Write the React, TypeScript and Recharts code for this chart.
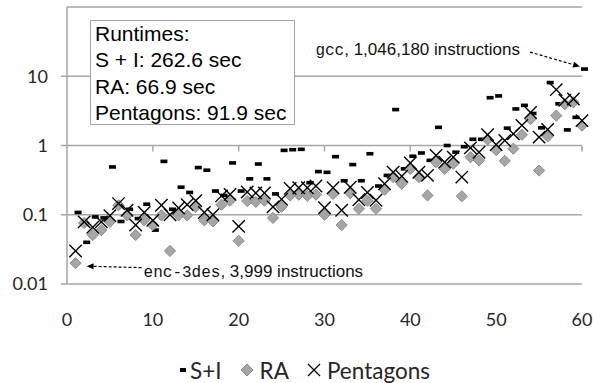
import React from 'react';
import { ScatterChart, Scatter, XAxis, YAxis, CartesianGrid, Legend, ReferenceDot } from 'recharts';

// runtime per benchmark (sec), benchmarks sorted by size, 1..60
const siTimes = [
  0.108, 0.04, 0.093, 0.09, 0.49, 0.08, 0.12, 0.088, 0.142, 0.06,
  0.59, 0.12, 0.25, 0.21, 0.48, 0.44, 0.22, 0.19, 0.56, 0.22,
  0.33, 0.54, 0.33, 0.2, 0.85, 0.87, 0.88, 0.29, 0.42, 0.41,
  0.69, 0.31, 0.53, 0.31, 0.76, 0.26, 0.37, 3.3, 0.46, 0.7,
  0.78, 0.61, 1.83, 1.0, 0.8, 0.96, 1.23, 1.23, 4.9, 5.2,
  1.78, 3.37, 3.8, 2.9, 1.8, 8.1, 4.0, 1.68, 2.55, 12.7,
];
const raTimes = [
  0.02, 0.076, 0.051, 0.06, 0.079, 0.137, 0.098, 0.051, 0.083, 0.071,
  0.098, 0.03, 0.098, 0.098, 0.13, 0.083, 0.08, 0.14, 0.16, 0.042,
  0.158, 0.153, 0.16, 0.09, 0.13, 0.19, 0.195, 0.188, 0.195, 0.1,
  0.2, 0.071, 0.205, 0.122, 0.16, 0.122, 0.23, 0.35, 0.28, 0.46,
  0.35, 0.19, 0.575, 0.46, 0.545, 0.185, 0.68, 0.61, 1.22, 0.86,
  0.6, 0.9, 1.43, 2.4, 0.435, 1.35, 2.7, 3.95, 4.2, 1.94,
];
const pentTimes = [
  0.03, 0.079, 0.066, 0.079, 0.097, 0.145, 0.116, 0.071, 0.108, 0.083,
  0.137, 0.1, 0.125, 0.14, 0.16, 0.108, 0.1, 0.187, 0.197, 0.068,
  0.213, 0.206, 0.206, 0.13, 0.167, 0.24, 0.245, 0.245, 0.26, 0.126,
  0.245, 0.116, 0.25, 0.165, 0.21, 0.162, 0.28, 0.41, 0.36, 0.56,
  0.41, 0.37, 0.72, 0.575, 0.68, 0.35, 0.925, 0.8, 1.43, 1.03,
  1.18, 1.47, 1.95, 3.0, 1.32, 1.7, 6.4, 4.5, 4.7, 2.29,
];

const xTicks = [0, 10, 20, 30, 40, 50, 60];
const yTicks = [0.01, 0.1, 1, 10];
const runtimeLines = ['Runtimes:', 'S + I: 262.6 sec', 'RA: 66.9 sec', 'Pentagons: 91.9 sec'];
const seriesNames = ['S+I', 'RA', 'Pentagons'];

const toPoints = (vals: number[]) => vals.map((v, i) => ({ n: i + 1, t: v }));

const GRID = '#a6a6a6';
const TEXT = '#262626';

const DashMark = (p: any) => (
  <rect x={p.cx - 1} y={p.cy - 1.8} width={7} height={3.6} fill="#000" />
);

const DiamondMark = (p: any) => {
  const r = 5.6;
  return (
    <polygon
      points={`${p.cx},${p.cy - r} ${p.cx + r},${p.cy} ${p.cx},${p.cy + r} ${p.cx - r},${p.cy}`}
      fill="#a6a6a6"
      stroke="#8c8c8c"
      strokeWidth={1}
    />
  );
};

const CrossMark = (p: any) => {
  const r = 6.2;
  return (
    <g stroke="#000" strokeWidth={1.4}>
      <line x1={p.cx - r} y1={p.cy - r} x2={p.cx + r} y2={p.cy + r} />
      <line x1={p.cx - r} y1={p.cy + r} x2={p.cx + r} y2={p.cy - r} />
    </g>
  );
};

const DashedArrow = ({ x1, y1, x2, y2 }: any) => {
  const a = Math.atan2(y2 - y1, x2 - x1);
  const len = 7;
  const w = 3;
  const bx = x2 - len * Math.cos(a);
  const by = y2 - len * Math.sin(a);
  const px = -Math.sin(a) * w;
  const py = Math.cos(a) * w;
  return (
    <g>
      <line x1={x1} y1={y1} x2={bx} y2={by} stroke="#000" strokeWidth={1.2} strokeDasharray="3 2" />
      <polygon points={`${x2},${y2} ${bx + px},${by + py} ${bx - px},${by - py}`} fill="#000" />
    </g>
  );
};

const GccNote = (p: any) => (
  <g>
    <text x={p.cx - 62} y={p.cy - 14} textAnchor="end" fontSize={17} fill="#111"
      fontFamily="'Liberation Sans', Arial, sans-serif">
      <tspan fontFamily="'Liberation Mono', monospace" fontSize={16}>gcc</tspan>, 1,046,180 instructions
    </text>
    <DashedArrow x1={p.cx - 52} y1={p.cy - 17} x2={p.cx - 2} y2={p.cy - 2.5} />
  </g>
);

const EncNote = (p: any) => (
  <g>
    <DashedArrow x1={p.cx + 66} y1={p.cy + 4.5} x2={p.cx + 11} y2={p.cy + 3} />
    <text x={p.cx + 68} y={p.cy + 14} fontSize={17} fill="#111"
      fontFamily="'Liberation Sans', Arial, sans-serif">
      <tspan fontFamily="'Liberation Mono', monospace" fontSize={16}>enc-3des</tspan>, 3,999 instructions
    </text>
  </g>
);

const XAxisNotch = (p: any) => (
  <line x1={p.cx} y1={p.cy} x2={p.cx} y2={p.cy + 6} stroke={GRID} strokeWidth={1.5} />
);

const legendIcon = (name: string) => {
  if (name === 'S+I') return <rect x={6} y={5} width={6} height={4} fill="#000" />;
  if (name === 'RA') return <polygon points="7,1 13,7 7,13 1,7" fill="#a6a6a6" stroke="#8c8c8c" />;
  return (
    <g stroke="#000" strokeWidth={1.3}>
      <line x1={1} y1={1} x2={13} y2={13} />
      <line x1={1} y1={13} x2={13} y2={1} />
    </g>
  );
};

const renderLegend = () => (
  <div style={{ display: 'flex', justifyContent: 'center', alignItems: 'center', height: 26,
    fontFamily: 'Lato, sans-serif', fontSize: 22.5, color: TEXT, paddingLeft: 22 }}>
    {seriesNames.map((name, i) => (
      <div key={name} style={{ display: 'flex', alignItems: 'center', marginRight: i < 2 ? 18 : 0 }}>
        <svg width={14} height={14}>{legendIcon(name)}</svg>
        <span style={{ marginLeft: name === 'S+I' ? 2 : 6 }}>{name}</span>
      </div>
    ))}
  </div>
);

export default function App() {
  return (
    <div style={{ position: 'absolute', left: 0, top: 0, width: 593, height: 383, background: '#fff' }}>
      <ScatterChart width={593} height={383} margin={{ top: 7, right: 11, left: 0, bottom: 0 }}>
        <CartesianGrid horizontal vertical={false} stroke={GRID} strokeWidth={1.4} />
        <XAxis
          type="number"
          dataKey="n"
          domain={[0, 60]}
          ticks={xTicks}
          axisLine={false}
          tickLine={false}
          tickSize={0}
          tickMargin={29}
          height={73}
          tick={{ fontFamily: 'Lato, sans-serif', fontSize: 18, fill: TEXT }}
        />
        <YAxis
          type="number"
          dataKey="t"
          scale="log"
          domain={[0.01, 100]}
          allowDataOverflow
          ticks={yTicks}
          width={67}
          axisLine={{ stroke: GRID, strokeWidth: 1.5 }}
          tickLine={{ stroke: GRID, strokeWidth: 1.5 }}
          tickSize={6}
          tickMargin={13}
          tick={{ fontFamily: 'Lato, sans-serif', fontSize: 18, fill: TEXT }}
        />
        {xTicks.slice(1).map((t) => (
          <ReferenceDot key={t} x={t} y={1} shape={XAxisNotch} />
        ))}
        <Legend
          verticalAlign="bottom"
          content={renderLegend}
          wrapperStyle={{ height: 26 }}
        />
        <Scatter name="S+I" data={toPoints(siTimes)} shape={DashMark} isAnimationActive={false} />
        <Scatter name="RA" data={toPoints(raTimes)} shape={DiamondMark} isAnimationActive={false} />
        <Scatter name="Pentagons" data={toPoints(pentTimes)} shape={CrossMark} isAnimationActive={false} />
        <ReferenceDot x={60} y={siTimes[59]} shape={GccNote} />
        <ReferenceDot x={1} y={raTimes[0]} shape={EncNote} />
      </ScatterChart>
      <div style={{ position: 'absolute', left: 90, top: 20, width: 205, height: 105, boxSizing: 'border-box',
        border: `1.5px solid ${GRID}`, background: '#fff', paddingLeft: 4,
        fontFamily: "'Liberation Sans', Arial, sans-serif", fontSize: 21, lineHeight: '26.3px', color: '#000' }}>
        {runtimeLines.map((l) => (
          <div key={l}>{l}</div>
        ))}
      </div>
    </div>
  );
}
